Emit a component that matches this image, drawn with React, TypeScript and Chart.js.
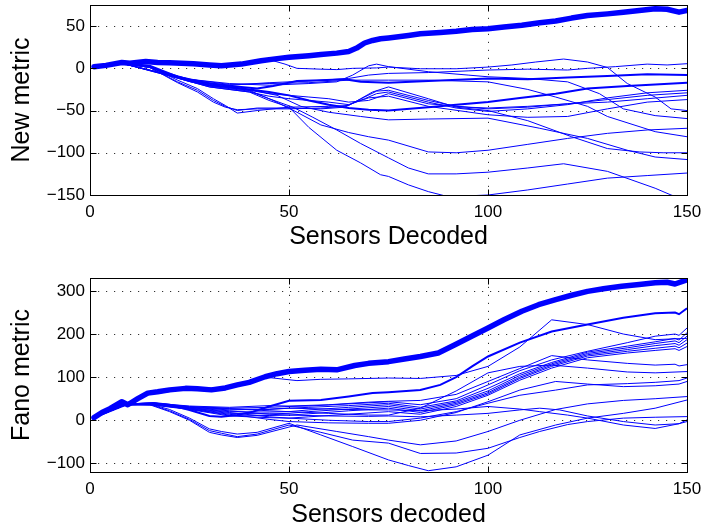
import React, { useEffect, useRef } from 'react';
import { Chart, registerables } from 'chart.js';

Chart.register(...registerables);

type Pt = [number, number];

const X_TICKS = [0, 50, 100, 150];
const NEW_Y_TICKS = [-150, -100, -50, 0, 50];
const FANO_Y_TICKS = [-100, 0, 100, 200, 300];

// ---------- Top panel: New metric ----------
const newMain: Pt[] = [[1,2],[4,3.5],[8,7],[10,6],[14,8],[17,7],[20,6.5],[26,5.5],[30,4],[33,3],[38,5],[43,9],[47,11.5],[50,13],[55,15],[58,16.5],[62,18],[65,20],[67,24],[69,30],[71,33],[73,35],[75,36],[80,39],[83,41],[88,42.5],[92,44],[96,46],[100,47],[104,49],[108.5,51],[113,54],[117,56],[121,59.5],[125,62.5],[130,64.5],[134,66.5],[138,68.5],[142,70.5],[145,70],[148,66.5],[150,68.5]];

const newMedium: Pt[][] = [
  [[1,2],[8,6],[15,3],[22,-10],[30,-18],[38,-22],[42,-24],[46,-21],[52,-15],[58,-14],[64,-13],[68,-16],[75,-17],[85,-15],[100,-12],[110,-13],[120,-11],[130,-9],[140,-7],[150,-8]],
  [[1,2],[8,6],[15,2],[20,-8],[25,-15],[30,-20],[35,-22],[40,-25],[45,-28],[50,-32],[55,-38],[60,-43],[65,-47],[70,-49],[75,-50],[85,-46],[92,-43],[100,-40],[108,-35],[117,-30],[125,-24],[135,-21],[142,-19],[150,-17]],
];

const newThin: Pt[][] = [
  [[1,2],[8,6],[20,5.5],[30,3.5],[40,5.5],[46,9],[49,5],[52,0],[58,-1],[62,-1.5],[66,0],[72,0.5],[75,1.5],[83,-0.5],[92,-0.5],[100,1.5],[106,4],[112,7.5],[119,11],[125,7.5],[130,1],[135,-18],[142,-34],[146,-48],[150,-50]],
  [[1,2],[8,6],[14,3],[20,-6],[25,-13],[35,-18],[45,-20],[55,-18],[62,-16],[66,-8],[70,3],[72,5],[75,2],[85,-4],[95,-8],[100,-10],[110,-12],[120,-16],[128,-30],[134,-48],[142,-56],[150,-59.5]],
  [[1,2],[8,6],[14,3],[20,-7],[25,-14],[35,-20],[45,-17],[55,-15],[65,-12],[70,-8],[75,-6],[85,-5],[95,-3],[100,-2],[110,-1],[120,-2],[125,0],[132,2],[140,5],[145,4],[150,5.5]],
  [[1,2],[8,6],[15,1],[20,-7],[25,-13],[35,-19],[45,-18],[55,-17],[65,-14],[75,-14],[85,-14],[100,-16],[110,-25],[117,-34],[125,-45],[130,-57],[142,-75],[150,-81]],
  [[1,2],[8,6],[15,2],[22,-14],[27,-24],[31,-36],[34,-44],[37,-53],[42,-50],[50,-46],[60,-45],[65,-44],[68,-36],[71,-28],[75,-22],[85,-36],[92,-46],[100,-50],[110,-62],[121,-81],[130,-95],[138,-99],[144,-100],[150,-100]],
  [[1,2],[8,6],[15,1],[22,-16],[27,-26],[31,-38],[34,-45],[37,-50],[42,-47],[50,-47],[58,-48],[64,-46],[69,-34],[72,-27],[75,-26],[85,-38],[92,-45],[100,-48],[110,-46],[120,-42],[130,-37],[140,-32],[150,-29]],
  [[1,2],[8,6],[15,1],[22,-17],[27,-28],[31,-40],[34,-46],[37,-49],[42,-48],[50,-48],[58,-47],[64,-45],[69,-36],[72,-30],[75,-28],[85,-40],[92,-47],[100,-51],[110,-48],[120,-43],[130,-35],[140,-29],[150,-26]],
  [[1,2],[8,6],[20,-8],[30,-20],[40,-26],[45,-30],[50,-32],[55,-34],[60,-36],[65,-40],[70,-38],[75,-30],[85,-42],[95,-46],[100,-47],[110,-45],[120,-42],[130,-40],[140,-36],[150,-32]],
  [[1,2],[8,6],[20,-9],[30,-22],[40,-28],[45,-33],[50,-36],[55,-38],[60,-40],[65,-43],[70,-35],[75,-33],[85,-45],[100,-55],[110,-58],[120,-57],[130,-48],[140,-40],[150,-37]],
  [[1,2],[8,6],[20,-8],[30,-19],[40,-25],[47,-32],[53,-45],[60,-52],[68,-57],[75,-61],[85,-60],[100,-59],[113,-71],[125,-83],[135,-97],[142,-105],[150,-108]],
  [[1,2],[8,6],[20,-8],[30,-20],[40,-26],[46,-38],[52,-52],[58,-67],[65,-76],[70,-81],[75,-85],[85,-99],[92,-100],[100,-97],[110,-90],[120,-83],[130,-77],[140,-73],[150,-71]],
  [[1,2],[8,6],[20,-8],[30,-21],[40,-27],[45,-36],[51,-46],[56,-58],[62,-73],[68,-89],[75,-106],[80,-118],[85,-125],[92,-125],[100,-123],[110,-118],[119,-113],[130,-122],[142,-142],[146,-150],[150,-156]],
  [[1,2],[8,6],[20,-9],[30,-22],[40,-28],[45,-38],[50,-46],[55,-70],[62,-97],[68,-112],[73,-126],[75,-128],[80,-138],[85,-146],[90,-152],[95,-151],[100,-150],[110,-144],[120,-137],[130,-130],[140,-127],[150,-124]],
];

// ---------- Bottom panel: Fano metric ----------
const fanoMain: Pt[] = [[1,6],[3,18],[5,27],[8,43],[9.5,36],[12,50],[14.5,63],[17,66],[20,70.5],[24,74],[27,73],[30.5,70.5],[34,75],[37,82],[40,88],[44,101],[47,108],[50,113],[54,116],[58,118.6],[62,117],[66.5,127],[70,132],[75,136],[79,142],[83,148],[87.5,156],[91.7,175],[95.9,195],[100,214],[104,233],[108.5,253],[112.7,268],[117,280],[121,290],[125,299],[129,305],[133.6,311],[138,315],[142,319],[145,320],[147,316],[150,326]];

const fanoMedium: Pt[][] = [
  [[1,6],[9,36],[16,40],[20,36],[25,24],[30,10],[33,8],[37,12],[41,20],[45,32],[50,45],[58,47],[65,55],[71,63],[75,65],[83,70],[88,82],[92,100],[96,125],[100,148],[108,180],[116,206],[125,222],[134,238],[142,248],[147,250],[148,246],[150,260]],
];

const fanoThin: Pt[][] = [
  [[1,6],[9,40],[15,60],[25,73],[35,76],[44,100],[48,96],[52,92],[58,95],[65,96],[75,98],[83,97],[92,104],[100,125],[108,170],[116,233],[125,222],[134,200],[142,187],[150,190]],
  [[1,6],[9,38],[16,40],[25,32],[35,28],[45,30],[50,32],[55,33],[65,38],[75,43],[83,36],[92,50],[100,82],[108,115],[116,140],[125,160],[135,180],[142,195],[147,200],[148,197],[150,214]],
  [[1,6],[9,37],[16,39],[25,30],[35,24],[45,26],[50,28],[55,30],[65,34],[75,39.5],[83,30],[92,45],[100,74],[108,108],[116,134],[125,158],[135,172],[142,182],[147,190],[148,186],[150,203]],
  [[1,6],[9,37],[16,38],[25,28],[35,20],[45,19],[50,20],[55,24],[65,30],[75,36],[83,26],[92,42],[100,68],[108,104],[116,131],[125,155],[135,168],[142,178],[147,184],[148,180],[150,195]],
  [[1,6],[9,36],[16,37],[25,27],[35,16],[45,15],[50,16],[55,20],[65,26],[75,32],[83,22],[92,39],[100,64],[108,100],[116,128],[125,152],[135,164],[142,173],[147,178],[148,174],[150,187]],
  [[1,6],[9,36],[16,36],[25,26],[35,12],[45,11],[50,12],[55,15],[65,22],[75,28],[83,18],[92,36],[100,61],[108,97],[116,125],[125,149],[135,160],[142,167],[147,172],[148,168],[150,179]],
  [[1,6],[9,36],[16,35],[25,25],[35,10],[45,6],[50,5],[55,8],[65,14],[75,20],[83,14],[92,32],[100,58],[108,93],[116,121],[125,145],[135,156],[142,162],[147,166],[148,162],[150,171]],
  [[1,6],[9,38],[16,40],[25,31],[35,27],[45,22],[50,20],[60,16],[70,12],[75,12],[83,28],[92,68],[100,110],[108,125],[116,128],[125,121],[135,112],[142,110],[150,113]],
  [[1,6],[9,38],[16,40],[25,33],[35,30],[45,34],[50,33],[60,36],[70,42],[75,44],[83,46],[92,60],[100,90],[108,120],[116,150],[125,140],[135,132],[142,128],[147,130],[148,126],[150,129]],
  [[1,6],[9,36],[16,37],[25,28],[35,18],[45,8],[50,5],[60,0],[70,-3],[75,-3],[83,5],[92,20],[100,39.5],[108,58],[117,70],[125,82],[135,85],[142,88],[148,92],[150,98]],
  [[1,6],[9,36],[16,36],[25,26],[35,14],[45,2],[50,-3],[60,-6],[70,-7],[75,-7],[83,0],[92,18],[100,43],[108,70],[117,90],[125,84],[134,78],[142,80],[148,84],[150,90]],
  [[1,6],[9,37],[16,38],[25,30],[35,26],[45,25],[50,28],[60,26],[70,24],[75,24],[83,22],[92,26],[100,32],[108,26],[113,20],[120,12],[125,5],[134,-11],[142,-19],[148,-8],[150,1]],
  [[1,6],[9,37],[16,38],[25,29],[35,22],[45,14],[50,12],[60,10],[70,9],[75,10],[83,8],[92,12],[100,16],[108,24],[113,28],[118,24],[125,10],[134,-3],[142,-11],[148,-8],[150,-3]],
  [[1,6],[9,38],[15,38],[20,25],[25,5],[30,-20],[33,-26],[37,-32],[42,-28],[50,-7],[58,-34],[66,-61],[75,-92],[80,-105],[85,-117],[92,-108],[100,-81],[108,-34],[117,-11],[125,5],[134,16],[142,28],[150,47]],
  [[1,6],[9,38],[15,37],[20,22],[25,2],[30,-24],[33,-30],[37,-38],[42,-32],[50,-11],[58,-28],[66,-46],[75,-53],[83,-77],[92,-76],[100,-65],[108,-40],[113,-26],[120,-10],[125,-3],[134,5],[142,7],[150,8.5]],
  [[1,6],[9,38],[15,36],[20,20],[25,0],[30,-28],[33,-34],[37,-40],[42,-35],[52,-11],[62,-26],[70,-38],[75,-46],[83,-57],[92,-48],[100,-26],[108,0],[117,25],[125,38],[134,46],[142,50],[150,55]],
];

const BLUE = '#0000ff';
const FONT = '"Liberation Sans", Arial, Helvetica, sans-serif';

const toXY = (pts: Pt[]) => pts.map(([x, y]) => ({ x, y }));

const matlabFrame = {
  id: 'matlabFrame',
  beforeDatasetsDraw(chart: any) {
    const { ctx, chartArea: a, scales } = chart;
    const xs = scales.x, ys = scales.y;
    ctx.save();
    ctx.strokeStyle = 'rgba(0,0,0,0.8)';
    ctx.lineWidth = 1;
    ctx.setLineDash([1.2, 6.8]);
    xs.ticks.forEach((t: any) => {
      const px = Math.round(xs.getPixelForValue(t.value)) + 0.5;
      ctx.beginPath(); ctx.moveTo(px, a.bottom); ctx.lineTo(px, a.top); ctx.stroke();
    });
    ys.ticks.forEach((t: any) => {
      const py = Math.round(ys.getPixelForValue(t.value)) + 0.5;
      ctx.beginPath(); ctx.moveTo(a.left, py); ctx.lineTo(a.right, py); ctx.stroke();
    });
    ctx.restore();
  },
  afterDatasetsDraw(chart: any) {
    const { ctx, chartArea: a, scales } = chart;
    const xs = scales.x, ys = scales.y;
    const L = Math.round(a.left) + 0.5, R = Math.round(a.right) + 0.5;
    const T = Math.round(a.top) + 0.5, B = Math.round(a.bottom) + 0.5;
    ctx.save();
    ctx.strokeStyle = '#000';
    ctx.lineWidth = 1;
    ctx.setLineDash([]);
    ctx.strokeRect(L, T, R - L, B - T);
    const tl = 6;
    ctx.beginPath();
    xs.ticks.forEach((t: any) => {
      const px = Math.round(xs.getPixelForValue(t.value)) + 0.5;
      ctx.moveTo(px, B); ctx.lineTo(px, B - tl);
      ctx.moveTo(px, T); ctx.lineTo(px, T + tl);
    });
    ys.ticks.forEach((t: any) => {
      const py = Math.round(ys.getPixelForValue(t.value)) + 0.5;
      ctx.moveTo(L, py); ctx.lineTo(L + tl, py);
      ctx.moveTo(R, py); ctx.lineTo(R - tl, py);
    });
    ctx.stroke();
    ctx.restore();
  },
};

function makeConfig(opts: {
  main: Pt[]; medium: Pt[][]; thin: Pt[][];
  yMin: number; yMax: number; yTicks: number[];
  xTitle: string; yTitle: string;
  padTop: number; xAxisH: number; xTitlePadBottom: number;
}) {
  const datasets: any[] = [];
  opts.thin.forEach((d) => datasets.push({
    data: toXY(d), borderColor: BLUE, borderWidth: 1, pointRadius: 0, tension: 0, fill: false,
  }));
  opts.medium.forEach((d) => datasets.push({
    data: toXY(d), borderColor: BLUE, borderWidth: 2, pointRadius: 0, tension: 0, fill: false,
  }));
  datasets.push({
    data: toXY(opts.main), borderColor: BLUE, borderWidth: 5.5, pointRadius: 0, tension: 0, fill: false,
    borderJoinStyle: 'round', borderCapStyle: 'round',
  });
  const fmt = (v: any) => String(v).replace('-', '\u2212');
  return {
    type: 'line' as const,
    data: { datasets },
    plugins: [matlabFrame],
    options: {
      animation: false,
      responsive: false,
      devicePixelRatio: 1,
      events: [],
      layout: { padding: { top: opts.padTop, right: 14, left: 0, bottom: 0 } },
      plugins: { legend: { display: false }, tooltip: { enabled: false }, title: { display: false } },
      scales: {
        x: {
          type: 'linear',
          min: 0, max: 150,
          afterBuildTicks: (s: any) => { s.ticks = X_TICKS.map((v) => ({ value: v })); },
          afterFit: (s: any) => { s.height = opts.xAxisH; s.paddingLeft = 0; s.paddingRight = 0; },
          grid: { display: false, drawTicks: false },
          border: { display: false },
          ticks: { color: '#000', font: { family: FONT, size: 17 }, padding: 7, maxRotation: 0, autoSkip: false, callback: fmt },
          title: { display: true, text: opts.xTitle, color: '#000', font: { family: FONT, size: 25 }, padding: { top: 0, bottom: opts.xTitlePadBottom } },
        },
        y: {
          type: 'linear',
          min: opts.yMin, max: opts.yMax,
          afterBuildTicks: (s: any) => { s.ticks = opts.yTicks.map((v) => ({ value: v })); },
          afterFit: (s: any) => { s.width = 90; s.paddingTop = 0; s.paddingBottom = 0; },
          grid: { display: false, drawTicks: false },
          border: { display: false },
          ticks: { color: '#000', font: { family: FONT, size: 17 }, padding: 5, autoSkip: false, callback: fmt },
          title: { display: true, text: opts.yTitle, color: '#000', font: { family: FONT, size: 25 }, padding: { top: 7, bottom: 0 } },
        },
      },
    },
  };
}

export default function App() {
  const topRef = useRef<HTMLCanvasElement>(null);
  const botRef = useRef<HTMLCanvasElement>(null);

  useEffect(() => {
    const c1 = new Chart(topRef.current as HTMLCanvasElement, makeConfig({
      main: newMain, medium: newMedium, thin: newThin,
      yMin: -150, yMax: 75, yTicks: NEW_Y_TICKS,
      xTitle: 'Sensors Decoded', yTitle: 'New metric',
      padTop: 5, xAxisH: 65, xTitlePadBottom: 8,
    }) as any);
    const c2 = new Chart(botRef.current as HTMLCanvasElement, makeConfig({
      main: fanoMain, medium: fanoMedium, thin: fanoThin,
      yMin: -120, yMax: 330, yTicks: FANO_Y_TICKS,
      xTitle: 'Sensors decoded', yTitle: 'Fano metric',
      padTop: 18, xAxisH: 59, xTitlePadBottom: 1,
    }) as any);
    return () => { c1.destroy(); c2.destroy(); };
  }, []);

  return (
    <div style={{ position: 'fixed', left: 0, top: 0, width: 701, height: 531, background: '#fff' }}>
      <canvas ref={topRef} width={701} height={260} style={{ display: 'block', width: 701, height: 260 }} />
      <canvas ref={botRef} width={701} height={271} style={{ display: 'block', width: 701, height: 271 }} />
    </div>
  );
}
